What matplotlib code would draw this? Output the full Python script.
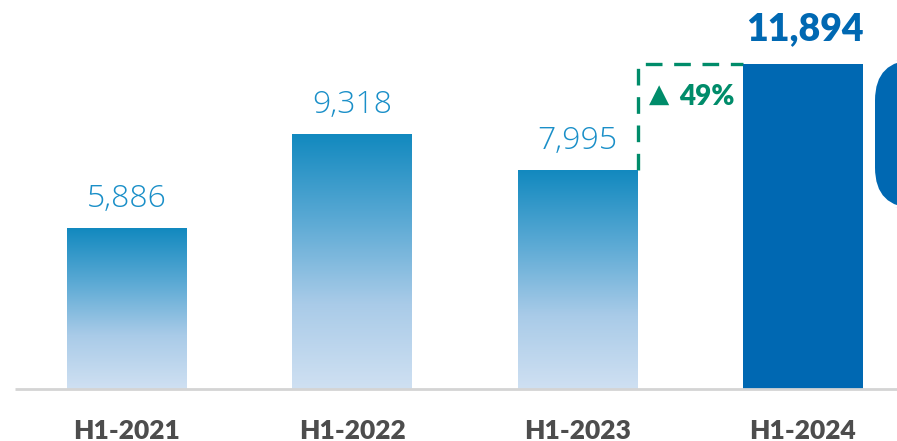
import matplotlib.pyplot as plt
import numpy as np
from matplotlib.colors import LinearSegmentedColormap
from matplotlib.patches import FancyBboxPatch

categories = ['H1-2021', 'H1-2022', 'H1-2023', 'H1-2024']
values = [5886, 9318, 7995, 11894]
growth_label = '49%'

W, H, DPI = 897, 441, 100
fig = plt.figure(figsize=(W / DPI, H / DPI), dpi=DPI)
ax = fig.add_axes([0, 0, 1, 1])

# pixel geometry of the reference
step = 225.33
x0 = 127
base = 52          # baseline px from bottom
scale = 0.02735    # px per unit
ax.set_xlim(-x0 / step, (W - x0) / step)
ax.set_ylim(-base / scale, (H - base) / scale)
ax.axis('off')

bw = 120 / step
grad = LinearSegmentedColormap.from_list('g', ['#cfe0f2', '#a9cbe8', '#5aa9d4', '#1289bf'])
g = np.linspace(0, 1, 256).reshape(-1, 1)

for i, v in enumerate(values[:-1]):
    ax.imshow(g, cmap=grad, origin='lower', aspect='auto',
              extent=[i - bw / 2, i + bw / 2, 0, v], zorder=2)
    ax.text(i, v + 470, f'{v:,}', ha='center', va='bottom', fontsize=23,
            family='Open Sans', weight='light', color='#1a8fc8')

# last bar solid
ax.bar(3, values[3], width=bw, color='#0068b2', zorder=2)
ax.text(3.01, values[3] + 640, f'{values[3]:,}', ha='center', va='bottom', fontsize=27,
        family='Lato', weight='heavy', color='#0068b2')

# baseline
ax.plot([15 / step - x0 / step, (W - x0) / step], [0, 0], color='#d4d4d4', lw=2, zorder=3,
        solid_capstyle='butt')

# dashed growth bracket
green = '#008c6a'
xl = 2 + bw / 2
xr = 3 - bw / 2
ax.plot([xl, xl, xr], [values[2], values[3] - 20, values[3] - 20], color=green, lw=2.4,
        ls=(0, (5, 3.5)), zorder=1)
ax.text(2.316, values[3] - 1150, '\u25B2', ha='left', va='center', fontsize=19,
        color=green, family='DejaVu Sans')
ax.text(2.448, values[3] - 1200, growth_label, ha='left', va='center', fontsize=20,
        family='Lato', weight='heavy', color=green)

# category labels
for i, c in enumerate(categories):
    ax.text(i, -1520, c, ha='center', va='center', fontsize=19, family='Lato',
            weight='heavy', color='#4d4d4d')

# rounded tab at right edge
tab = FancyBboxPatch((875 / W, (H - 208) / H), 60 / W, 148 / H,
                     boxstyle='round,pad=0,rounding_size=0.045', transform=fig.transFigure,
                     facecolor='#0068b2', edgecolor='none', mutation_aspect=W / H)
fig.patches.append(tab)

fig.savefig('out.png', dpi=DPI)
